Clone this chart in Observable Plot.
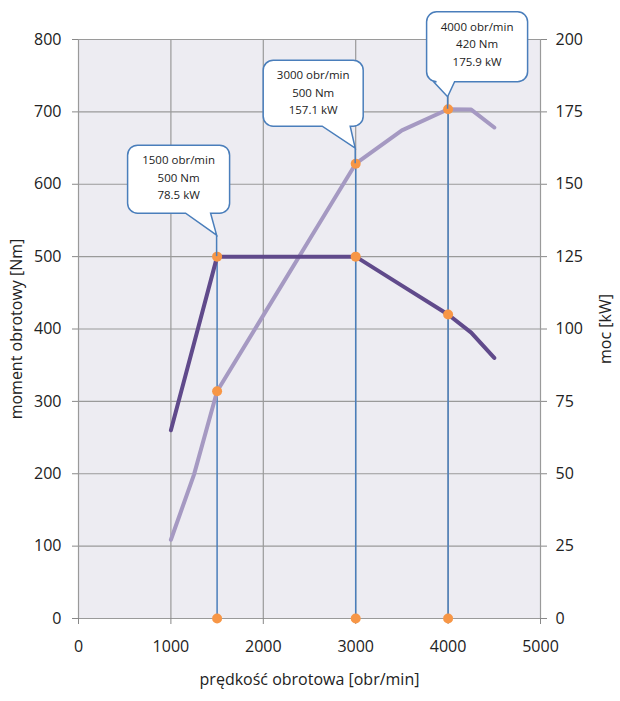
<!DOCTYPE html>
<html><head><meta charset="utf-8">
<script src="https://cdn.jsdelivr.net/npm/d3@7"></script>
<script src="https://cdn.jsdelivr.net/npm/@observablehq/plot@0.6"></script>
<style>body{margin:0;background:#fff}</style>
</head><body><div id="chart"></div>
<script>
// ---- data ----
const rpm      = [1000, 1250, 1500, 2000, 2500, 3000, 3500, 4000, 4250, 4500];
const torqueNm = [260, 380, 500, 500, 500, 500, 460, 420, 395, 360];
const powerKw  = [27.2, 49.7, 78.5, 104.7, 130.9, 157.1, 168.6, 175.9, 175.8, 169.6];

const xTicks   = [0, 1000, 2000, 3000, 4000, 5000];
const nmTicks  = [0, 100, 200, 300, 400, 500, 600, 700, 800];
const kwTicks  = [0, 25, 50, 75, 100, 125, 150, 175, 200];

const markRpm  = [1500, 3000, 4000];
const markNm   = [500, 500, 420];
const markKw   = [78.5, 157.1, 175.9];
const calloutLines = [
  ["1500 obr/min", "500 Nm", "78.5 kW"],
  ["3000 obr/min", "500 Nm", "157.1 kW"],
  ["4000 obr/min", "420 Nm", "175.9 kW"]
];

const nmMax = 800, kwMax = 200, k = nmMax / kwMax;

// ---- tables built from arrays ----
const curve = rpm.map((r, i) => ({rpm: r, nm: torqueNm[i], kwNm: powerKw[i] * k}));
const marks = markRpm.map((r, i) => ({rpm: r, nm: markNm[i], kwNm: markKw[i] * k, lines: calloutLines[i]}));
const dots = marks.flatMap(d => [{rpm: d.rpm, v: d.nm}, {rpm: d.rpm, v: d.kwNm}, {rpm: d.rpm, v: 0}]);

// callout shape styling (pixel offsets relative to pointer)
const calloutStyle = [
  {gap: 21, l: -89, r: 13, h: 68, base: 22, p1: -31, p2: -6},
  {gap: 15, l: -92, r: 8,  h: 66, base: 22, p1: -33, p2: -5},
  {gap: 12, l: -21, r: 80, h: 70, base: 15, p1: -14, p2: 7}
];

const font = "'Open Sans', 'Noto Sans', sans-serif";
const blue = "#4a7ebb";

function callouts(index, scales, values, dimensions) {
  const g = d3.create("svg:g");
  marks.forEach((d, i) => {
    const s = calloutStyle[i];
    const ax = scales.x(d.rpm);
    const top = scales.y(Math.max(d.nm, d.kwNm));
    const ty = top - s.gap;
    g.append("line").attr("x1", ax).attr("x2", ax).attr("y1", top).attr("y2", ty)
      .attr("stroke", blue).attr("stroke-width", 1.5);
    const b = ty - s.base, t = b - s.h, l = ax + s.l, r = ax + s.r, rr = 10;
    const p = `M${l + rr},${t} H${r - rr} A${rr},${rr} 0 0 1 ${r},${t + rr} V${b - rr} A${rr},${rr} 0 0 1 ${r - rr},${b}
      H${ax + s.p2} L${ax},${ty} L${ax + s.p1},${b} H${l + rr} A${rr},${rr} 0 0 1 ${l},${b - rr} V${t + rr} A${rr},${rr} 0 0 1 ${l + rr},${t} Z`;
    g.append("path").attr("d", p).attr("fill", "#fff").attr("stroke", blue).attr("stroke-width", 1.5);
    const cx = (l + r) / 2;
    d.lines.forEach((txt, j) => {
      g.append("text").attr("x", cx).attr("y", t + 16 + j * 17.5)
        .attr("text-anchor", "middle").attr("dominant-baseline", "middle")
        .attr("font-family", font).attr("font-size", 11.5).attr("fill", "#222").text(txt);
    });
  });
  return g.node();
}

const chart = Plot.plot({
  width: 620,
  height: 701,
  marginLeft: 78,
  marginRight: 80,
  marginTop: 39,
  marginBottom: 83,
  style: {fontFamily: font, fontSize: "16px", color: "#222", background: "#fff"},
  x: {domain: [0, 5000]},
  y: {domain: [0, nmMax]},
  marks: [
    Plot.frame({fill: "#edecf2", stroke: null}),
    Plot.gridX(xTicks, {stroke: "#9a9a9a", strokeOpacity: 1, strokeWidth: 1.2}),
    Plot.gridY(nmTicks, {stroke: "#9a9a9a", strokeOpacity: 1, strokeWidth: 1.2}),
    Plot.axisY({anchor: "left", ticks: nmTicks, tickSize: 6, tickPadding: 11, stroke: "#888",
      label: "moment obrotowy [Nm]", labelAnchor: "center", labelArrow: "none", labelOffset: 68}),
    Plot.axisY({anchor: "right", ticks: kwTicks.map(v => v * k), tickFormat: v => v / k, tickSize: 6, tickPadding: 9, stroke: "#888",
      label: "moc [kW]", labelAnchor: "center", labelArrow: "none", labelOffset: 70}),
    Plot.axisX({ticks: xTicks, tickFormat: d3.format("d"), tickSize: 6, tickPadding: 16, stroke: "#888",
      label: "prędkość obrotowa [obr/min]", labelAnchor: "center", labelArrow: "none", labelOffset: 66}),
    Plot.ruleX(marks, {x: "rpm", y1: 0, y2: d => Math.max(d.nm, d.kwNm), stroke: blue, strokeWidth: 1.5}),
    Plot.line(curve, {x: "rpm", y: "kwNm", stroke: "#a599c2", strokeWidth: 4}),
    Plot.line(curve, {x: "rpm", y: "nm", stroke: "#604a8b", strokeWidth: 4}),
    Plot.dot(dots, {x: "rpm", y: "v", r: 5, fill: "#f79646", stroke: null}),
    callouts
  ]
});
document.getElementById("chart").appendChild(chart);
</script>
</body></html>
